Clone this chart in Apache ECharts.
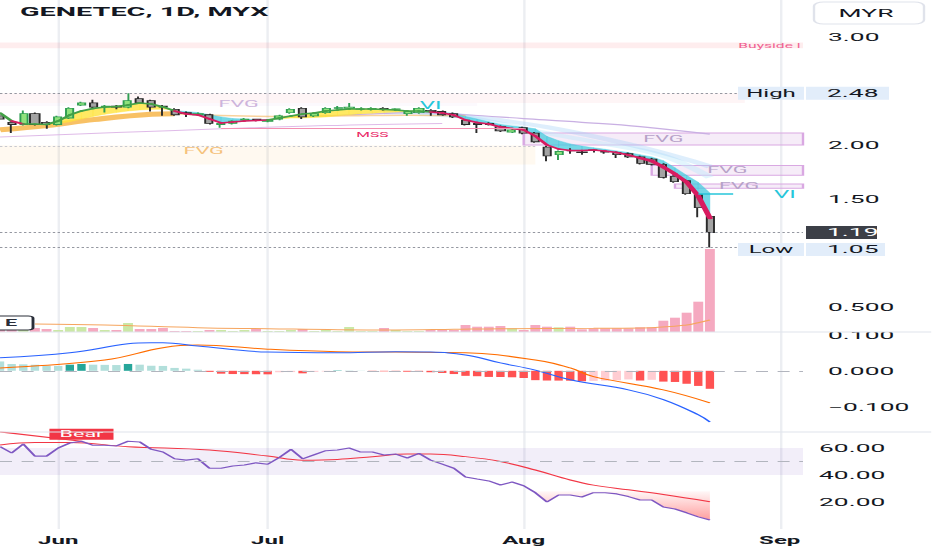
<!DOCTYPE html>
<html><head><meta charset="utf-8">
<script src="https://cdn.jsdelivr.net/npm/echarts@6/dist/echarts.min.js"></script>
<style>
html,body{margin:0;padding:0;background:#fff;overflow:hidden;width:932px;height:550px}
#c{position:absolute;left:0;top:0;height:550px;transform-origin:0 0}
</style></head><body><div id="c"></div>
<script>
// ---------------- DATA ----------------
const categories = [
'2024-05-27','2024-05-28','2024-05-29','2024-05-30','2024-05-31',
'2024-06-04','2024-06-05','2024-06-06','2024-06-07',
'2024-06-10','2024-06-11','2024-06-12','2024-06-13','2024-06-14',
'2024-06-18','2024-06-19','2024-06-20','2024-06-21',
'2024-06-24','2024-06-25','2024-06-26','2024-06-27','2024-06-28',
'2024-07-01','2024-07-02','2024-07-03','2024-07-04','2024-07-05',
'2024-07-09','2024-07-10','2024-07-11','2024-07-12',
'2024-07-15','2024-07-16','2024-07-17','2024-07-18','2024-07-19',
'2024-07-22','2024-07-23','2024-07-24','2024-07-25','2024-07-26',
'2024-07-29','2024-07-30','2024-07-31',
'2024-08-01','2024-08-02',
'2024-08-05','2024-08-06','2024-08-07','2024-08-08','2024-08-09',
'2024-08-12','2024-08-13','2024-08-14','2024-08-15','2024-08-16',
'2024-08-19','2024-08-20','2024-08-21','2024-08-22','2024-08-23',
'2024-08-26','2024-08-27','2024-08-28','2024-08-29','2024-08-30',
'2024-09-02','2024-09-03','2024-09-04'];
const tickDates = ['2024-06-04','2024-07-01','2024-08-01','2024-09-02'];
const tickLabels = ['Jun','Jul','Aug','Sep'];

// [open, close, low, high]
const candles = [
[2.27,2.24,2.22,2.29],[2.21,2.19,2.11,2.22],[2.19,2.29,2.18,2.32],[2.29,2.19,2.18,2.30],[2.21,2.19,2.15,2.22],
[2.19,2.26,2.18,2.27],[2.25,2.34,2.24,2.35],[2.37,2.39,2.36,2.40],[2.39,2.35,2.34,2.42],[2.35,2.36,2.30,2.37],
[2.36,2.35,2.33,2.37],[2.35,2.41,2.34,2.48],[2.43,2.39,2.38,2.45],[2.41,2.35,2.31,2.42],[2.36,2.35,2.27,2.37],
[2.33,2.28,2.27,2.34],[2.30,2.29,2.26,2.31],[2.28,2.29,2.27,2.30],[2.28,2.20,2.19,2.29],[2.19,2.20,2.16,2.21],
[2.20,2.22,2.19,2.23],[2.23,2.24,2.22,2.25],[2.24,2.23,2.22,2.24],[2.22,2.23,2.21,2.24],[2.24,2.27,2.23,2.28],
[2.30,2.33,2.29,2.34],[2.34,2.26,2.24,2.35],[2.27,2.29,2.26,2.30],[2.30,2.34,2.29,2.35],[2.34,2.345,2.33,2.36],
[2.34,2.35,2.33,2.39],[2.33,2.335,2.32,2.35],[2.33,2.34,2.32,2.35],[2.34,2.33,2.32,2.35],[2.33,2.335,2.32,2.34],
[2.29,2.31,2.27,2.32],[2.30,2.34,2.29,2.35],[2.32,2.31,2.27,2.33],[2.31,2.28,2.27,2.32],[2.29,2.26,2.25,2.30],
[2.23,2.19,2.18,2.24],[2.20,2.19,2.11,2.21],[2.20,2.19,2.18,2.21],[2.17,2.13,2.12,2.18],[2.12,2.14,2.11,2.15],
[2.16,2.11,2.10,2.17],[2.11,2.03,2.02,2.12],[1.98,1.90,1.85,1.99],[1.91,1.94,1.86,1.95],[1.95,1.945,1.92,1.97],
[1.935,1.93,1.91,1.95],[1.955,1.95,1.93,1.96],[1.94,1.935,1.92,1.95],[1.93,1.91,1.88,1.94],[1.92,1.89,1.88,1.93],
[1.89,1.83,1.82,1.90],[1.87,1.82,1.81,1.88],[1.82,1.70,1.69,1.83],[1.71,1.66,1.65,1.72],[1.67,1.55,1.54,1.68],
[1.54,1.42,1.33,1.55],[1.34,1.19,1.05,1.35]];

// volume, millions
const volumes = [1.0,1.0,1.5,2.0,1.5,1.0,2.5,2.5,2.0,1.0,1.0,4.5,1.5,1.5,2.0,0.5,0.5,0.5,1.0,1.0,
0.5,1.0,1.5,0.5,0.5,1.0,1.5,0.5,1.0,0.5,2.5,0.5,0.5,2.0,1.0,0.5,0.5,1.0,1.0,1.0,
3.5,2.65,2.65,3.0,1.85,1.0,3.5,2.65,2.35,2.65,1.35,1.85,1.85,1.85,1.85,2.35,2.35,5.65,7.15,9.65,
15.15,41.5];
const volumeMA = [[3,4.0],[9,3.5],[17,2.15],[23,1.65],[29,1.15],[34,1.0],[39,1.35],[43,1.65],[51,1.85],[56,2.15],[59,3.5],[60,4.65],[61,6.0]];

const emaFast = [2.296,2.222,2.194,2.194,2.19,2.222,2.278,2.315,2.338,2.352,2.356,2.37,2.389,2.38,2.352,2.315,2.287,2.278,2.241,2.204,
2.213,2.222,2.227,2.231,2.25,2.269,2.287,2.296,2.315,2.324,2.333,2.333,2.333,2.329,2.324,2.315,2.315,2.306,2.296,2.278,
2.231,2.208,2.194,2.167,2.153,2.139,2.083,2.0,1.963,1.949,1.949,1.954,1.944,1.931,1.907,1.88,1.852,1.796,1.731,1.657,
1.528,1.324];
const emaMid = [2.29,2.225,2.195,2.19,2.188,2.2,2.215,2.24,2.265,2.285,2.30,2.315,2.325,2.33,2.33,2.32,2.31,2.30,2.28,2.26,
2.245,2.24,2.235,2.235,2.24,2.25,2.25,2.255,2.26,2.27,2.28,2.29,2.295,2.30,2.305,2.31,2.31,2.31,2.30,2.29,
2.265,2.24,2.215,2.19,2.175,2.165,2.15,2.08,2.04,2.01,1.99,1.975,1.96,1.945,1.93,1.91,1.89,1.855,1.79,1.72,
1.655,1.556];
const orangeThick = [[0,2.14],[4,2.18],[8,2.235],[13,2.285],[15,2.29]];
const orangeThin = [[15,2.29],[20,2.27],[25,2.265],[30,2.27],[35,2.275],[40,2.27]];
const lavenderLine = [[0,2.074],[10,2.115],[19,2.15],[28,2.18],[38,2.2]];
const slowPurple = [[25,2.26],[30,2.28],[36,2.30],[40,2.28],[45,2.245],[50,2.21],[55,2.17],[61,2.10]];
const slowBlue = [[33,2.30],[36,2.30],[40,2.27],[43,2.23],[47,2.165],[51,2.08],[56,1.955],[60,1.835],[61,1.80]];
const slowBlue2 = [[36,2.29],[40,2.26],[42,2.22],[46,2.13],[51,2.03],[57,1.90],[61,1.70]];

const highPrice = 2.48, lastPrice = 1.19, lowPrice = 1.05;
const hiddenPriceTicks = [2.5, 1.0];   // covered by the High / Low tags in the picture
const buysideZone = [0, 69, 2.895, 2.95];
const highZone = [0, 64, 2.39, 2.48];
const oldFvgZone = [0, 41, 2.36, 2.39];
const orangeZone = [0, 46, 1.82, 1.995];
const orangeLabelZone = [0, 35, 1.95, 1.995];
const fvgZones = [[45,69,2.00,2.11],[56,69,1.72,1.81],[58,69,1.60,1.64]];
const mssLine = [19, 45, 2.157];
const viLine = [60, 63, 1.546];
const viMark = [37, 2.37];
const dottedLine = [0, 46, 1.99];

const macdHist = [0.026,0.019,0.018,0.017,0.014,0.0135,0.017,0.019,0.017,0.0165,0.016,0.019,0.017,0.014,0.0135,0.008,0.006,0.003,-0.003,-0.008,
-0.009,-0.0092,-0.0095,-0.0098,-0.004,-0.0035,-0.007,-0.003,-0.002,0.001,0.0008,0.0005,-0.001,-0.0015,-0.002,-0.0025,-0.003,-0.004,-0.006,-0.009,
-0.014,-0.015,-0.017,-0.0172,-0.018,-0.02,-0.026,-0.027,-0.0272,-0.0275,-0.029,-0.028,-0.0275,-0.026,-0.024,-0.027,-0.025,-0.03,-0.031,-0.036,
-0.042,-0.05];
const macdLine = [[0,0.036],[6,0.05],[11,0.075],[13,0.078],[14,0.078],[17,0.069],[23,0.052],[29,0.05],[34,0.053],[37,0.052],[40,0.044],[43,0.022],[46,0.002],[49,-0.025],[54,-0.053],[57,-0.08],[60,-0.122],[61,-0.142]];
const signalLine = [[0,0.008],[9,0.03],[14,0.064],[17,0.072],[23,0.06],[29,0.053],[34,0.052],[40,0.05],[46,0.03],[49,0.008],[51,-0.016],[57,-0.053],[61,-0.089]];

const rsi = [61,56.3,63,54,54,60,63.7,65,62,62,61.5,65,64.5,59,57,52,51,52,45,45,
46.7,47.4,49,48,53,59,52,55,58,58.5,60,57,57,54.8,55.5,52.6,56,51,48,45,
38.5,37,35.6,32.6,34.8,32,26.9,20,25.2,25.2,23.7,26.9,26.9,26,24,21.5,21.5,16.3,14.8,12,
9,6.7];
const rsiMA = [[0,62.2],[3,64],[6,64],[11,61],[18,58.5],[23,54],[26,51],[29,51.5],[32,53.5],[35,55.5],[37,55.5],[40,53.6],[43,50],[46,43.7],[49,36.3],[51,32.5],[54,29],[57,25.5],[61,20.2]];
const bearDivergence = [[0,72],[7,65]];
const bearIndex = 7;
const rsiBand = [40, 60], rsiMid = 50, rsiOversoldFrom = 46, rsiOversoldLevel = 28;

// ---------------- LAYOUT ----------------
const SX = 2.4;                 // horizontal stretch of the picture
const CW = 932 / SX;            // chart width in its own coordinates
const GW = 803 / SX;            // plot width
const el = document.getElementById('c');
el.style.width = CW + 'px';
el.style.transform = 'scaleX(' + SX + ')';
const chart = echarts.init(el, null, {renderer: 'svg'});

const TXT = '#131722';
const isMult = (v, s) => Math.abs(v / s - Math.round(v / s)) < 1e-6;
const fmtPrice = v => hiddenPriceTicks.some(h => Math.abs(h - v) < 1e-9) ? '' : (v < 1 ? v.toFixed(3) : v.toFixed(2));
const fmtMacd = v => { const z = Math.abs(v) < 1e-9 ? 0 : v; return (z < 0 ? '\u2212' : '') + Math.abs(z).toFixed(3); };
const isTick = (i, v) => tickDates.indexOf(v) >= 0;

function xAx(gi, withLabels, withSplit) {
  return {
    type: 'category', gridIndex: gi, data: categories, boundaryGap: false,
    axisLine: {show: false}, axisTick: {show: false},
    axisLabel: withLabels ? {show: true, interval: isTick, formatter: v => tickLabels[tickDates.indexOf(v)] || '',
      color: TXT, fontSize: 10, fontWeight: 'bold', margin: 6} : {show: false},
    splitLine: {show: withSplit, interval: isTick, lineStyle: {color: '#eceef2', width: 1}}
  };
}
function yLabel(extra) {
  return Object.assign({color: TXT, fontSize: 11, align: 'left', margin: 25 / SX}, extra);
}
const noAx = {axisLine: {show: false}, axisTick: {show: false}, splitLine: {show: false}};

const upVol = '#cbe8a6', downVol = '#f5a9c0';
const volData = volumes.map((v, i) => ({value: v, itemStyle: {color: candles[i][1] >= candles[i][0] ? upVol : downVol}}));
const histData = macdHist.map((v, i) => {
  const p = i > 0 ? macdHist[i - 1] : v;
  let c;
  if (v >= 0) c = (i > 0 && v > p) ? '#26a69a' : '#b2dfdb';
  else c = (i > 0 && v < p) ? '#ff5252' : '#ffcdd2';
  return {value: v, itemStyle: {color: c}};
});

function zoneItem(z, style, name, label) {
  return [{xAxis: z[0], yAxis: z[2], name: name || '', itemStyle: style, label: label || {show: false}},
          {xAxis: z[1], yAxis: z[3]}];
}
const fvgStyle = {color: 'rgba(206,147,216,0.18)', borderColor: '#d9a8e2', borderWidth: 1};
const fvgLabel = {show: true, position: 'inside', color: '#b7a2c8', fontSize: 9};

function ribbonItem(params, api) {
  const i = params.dataIndex;
  if (i >= emaFast.length - 1) return null;
  const a1 = api.coord([i, emaFast[i]]), a2 = api.coord([i + 1, emaFast[i + 1]]);
  const b1 = api.coord([i, emaMid[i]]), b2 = api.coord([i + 1, emaMid[i + 1]]);
  const d1 = emaFast[i] - emaMid[i], d2 = emaFast[i + 1] - emaMid[i + 1];
  const col = d => d >= 0 ? 'rgba(255,228,60,0.8)' : 'rgba(70,203,222,0.75)';
  if (d1 * d2 >= 0) return {type: 'polygon', shape: {points: [a1, a2, b2, b1]}, style: {fill: col(d1 + d2), stroke: col(d1 + d2), lineWidth: 0.3}};
  const t = d1 / (d1 - d2);
  const m = [a1[0] + (a2[0] - a1[0]) * t, a1[1] + (a2[1] - a1[1]) * t];
  return {type: 'group', children: [
    {type: 'polygon', shape: {points: [a1, m, b1]}, style: {fill: col(d1)}},
    {type: 'polygon', shape: {points: [m, a2, b2]}, style: {fill: col(d2)}}]};
}
function fastItem(params, api) {
  const i = params.dataIndex;
  if (i >= emaFast.length - 1) return null;
  const a1 = api.coord([i, emaFast[i]]), a2 = api.coord([i + 1, emaFast[i + 1]]);
  const d = emaFast[i] - emaMid[i] + emaFast[i + 1] - emaMid[i + 1];
  return {type: 'line', shape: {x1: a1[0], y1: a1[1], x2: a2[0], y2: a2[1]},
    style: {stroke: d >= 0 ? '#43a047' : '#d81b60', lineWidth: i >= 55 ? 2.4 : 1.6, lineCap: 'round'}};
}
const lineS = (data, color, width, z) => ({type: 'line', xAxisIndex: 1, yAxisIndex: 1, data, smooth: 0.4, symbol: 'none',
  lineStyle: {color, width}, z: z || 1, silent: true});

const option = {
  animation: false,
  textStyle: {fontFamily: 'Roboto'},
  grid: [
    {left: 0, width: GW, top: 0, height: 332},
    {left: 0, width: GW, top: 37, height: 270},
    {left: 0, width: GW, top: 332, height: 100},
    {left: 0, width: GW, top: 432, height: 97}
  ],
  xAxis: [xAx(0, false, true), xAx(1, false, false), xAx(2, false, true), xAx(3, true, true)],
  yAxis: [
    Object.assign({gridIndex: 0, type: 'value', min: 0, max: 166, show: false}, noAx),
    Object.assign({gridIndex: 1, type: 'value', position: 'right', min: 0.5, max: 3.0, interval: 0.5,
      axisLabel: yLabel({formatter: fmtPrice})}, noAx),
    Object.assign({gridIndex: 2, type: 'value', position: 'right', min: -0.17, max: 0.1078, interval: 0.01,
      axisLabel: yLabel({formatter: v => isMult(v, 0.1) ? fmtMacd(v) : ''})}, noAx),
    Object.assign({gridIndex: 3, type: 'value', position: 'right', min: 0, max: 71.85, interval: 20,
      axisLabel: yLabel({formatter: v => (v > 0 && isMult(v, 20)) ? v.toFixed(2) : '', margin: 16 / SX})}, noAx)
  ],
  series: [
    {type: 'bar', xAxisIndex: 0, yAxisIndex: 0, data: volData, barWidth: '85%', silent: true, z: 1},
    {type: 'line', xAxisIndex: 0, yAxisIndex: 0, data: volumeMA, smooth: 0.4, symbol: 'none', lineStyle: {color: '#f6a55e', width: 1}, z: 2},
    {type: 'line', xAxisIndex: 1, yAxisIndex: 1, data: emaMid, symbol: 'none', lineStyle: {opacity: 0}, silent: true, z: 0,
      markArea: {silent: true, data: [
        zoneItem(buysideZone, {color: 'rgba(242,54,69,0.09)'}, 'Buyside l', {show: true, position: 'insideRight', color: '#f06292', fontSize: 6.5, distance: 1}),
        zoneItem(highZone, {color: 'rgba(242,54,69,0.05)'}),
        zoneItem(oldFvgZone, {color: 'rgba(186,104,200,0.04)'}, 'FVG', {show: true, position: 'inside', color: '#cdb4dc', fontSize: 9}),
        zoneItem(orangeZone, {color: 'rgba(255,167,38,0.07)'}),
        zoneItem(orangeLabelZone, {color: 'rgba(0,0,0,0)'}, 'FVG', {show: true, position: 'insideTop', distance: 1, color: '#f5c27c', fontSize: 9}),
        ...fvgZones.map(z => zoneItem(z, fvgStyle, 'FVG', fvgLabel))
      ]},
      markLine: {silent: true, symbol: ['none', 'none'], data: [
        {yAxis: highPrice, lineStyle: {type: 'dotted', color: '#9598a1', width: 1}, label: {show: false}},
        {yAxis: lastPrice, lineStyle: {type: 'dotted', color: '#9598a1', width: 1}, label: {show: false}},
        {yAxis: lowPrice, lineStyle: {type: 'dotted', color: '#9598a1', width: 1}, label: {show: false}},
        [{coord: [dottedLine[0], dottedLine[2]], lineStyle: {type: 'dotted', color: '#c8c9cf', width: 1}, label: {show: false}}, {coord: [dottedLine[1], dottedLine[2]]}],
        [{coord: [mssLine[0], mssLine[2]], lineStyle: {type: 'solid', color: '#f48fb1', width: 1},
          label: {show: true, formatter: 'MSS', position: 'insideMiddleBottom', color: '#e91e63', fontSize: 6.5, distance: 3}}, {coord: [mssLine[1], mssLine[2]]}],
        [{coord: [viLine[0], viLine[2]], lineStyle: {type: 'solid', color: '#26c6da', width: 1.5},
          label: {show: true, formatter: 'VI', position: 'end', distance: 17, color: '#26c6da', fontSize: 10}}, {coord: [viLine[1], viLine[2]]}]
      ]},
      markPoint: {silent: true, data: [{coord: viMark, symbol: 'circle', symbolSize: 0.1, itemStyle: {color: 'rgba(0,0,0,0)'},
        label: {show: true, formatter: 'VI', position: 'inside', color: '#26c6da', fontSize: 10}}]}
    },
    lineS(lavenderLine, 'rgba(220,180,230,0.9)', 1),
    lineS(slowBlue2, 'rgba(190,232,250,0.45)', 4),
    lineS(slowBlue, 'rgba(160,205,245,0.35)', 4),
    lineS(slowPurple, '#c9b0e3', 1.2),
    lineS(orangeThin, 'rgba(245,180,90,0.6)', 1.5),
    lineS(orangeThick, 'rgba(245,166,35,0.7)', 5),
    {type: 'custom', xAxisIndex: 1, yAxisIndex: 1, data: emaFast.map((v, i) => [i, v, emaMid[i]]), encode: {x: 0, y: [1, 2]},
      renderItem: ribbonItem, clip: true, silent: true, z: 2},
    {type: 'candlestick', xAxisIndex: 1, yAxisIndex: 1, data: candles, barWidth: '76%', silent: true, z: 3,
      itemStyle: {color: '#8fe27c', color0: '#a3a3a3', borderColor: '#2f9e52', borderColor0: '#2a2a2a', borderWidth: 0.8}},
    {type: 'custom', xAxisIndex: 1, yAxisIndex: 1, data: emaFast.map((v, i) => [i, v]), encode: {x: 0, y: 1},
      renderItem: fastItem, clip: true, silent: true, z: 4},
    {type: 'bar', xAxisIndex: 2, yAxisIndex: 2, data: histData, barWidth: '72%', silent: true, z: 1,
      markLine: {silent: true, symbol: ['none', 'none'], label: {show: false},
        data: [{yAxis: 0, lineStyle: {type: [5, 4], color: '#b2b5be', width: 1}}]}},
    {type: 'line', xAxisIndex: 2, yAxisIndex: 2, data: signalLine, smooth: 0.4, symbol: 'none', lineStyle: {color: '#ff6d00', width: 1}, z: 3},
    {type: 'line', xAxisIndex: 2, yAxisIndex: 2, data: macdLine, smooth: 0.4, symbol: 'none', lineStyle: {color: '#2962ff', width: 1}, z: 4},
    {type: 'line', xAxisIndex: 3, yAxisIndex: 3, data: rsi.slice(rsiOversoldFrom).map((v, k) => [rsiOversoldFrom + k, v]),
      symbol: 'none', lineStyle: {width: 0}, silent: true, z: 1,
      areaStyle: {origin: rsiOversoldLevel, color: new echarts.graphic.LinearGradient(0, 0, 0, 1,
        [{offset: 0, color: 'rgba(255,82,82,0.06)'}, {offset: 1, color: 'rgba(255,82,82,0.8)'}])}},
    {type: 'line', xAxisIndex: 3, yAxisIndex: 3, data: rsiMA, smooth: 0.4, symbol: 'none', lineStyle: {color: '#f23645', width: 1}, z: 2},
    {type: 'line', xAxisIndex: 3, yAxisIndex: 3, data: bearDivergence, symbol: 'none', lineStyle: {color: '#f23645', width: 1.2}, z: 2},
    {type: 'line', xAxisIndex: 3, yAxisIndex: 3, data: rsi, symbol: 'none', lineStyle: {color: '#7e57c2', width: 1.1}, z: 3,
      markArea: {silent: true, itemStyle: {color: 'rgba(126,87,194,0.1)'},
        data: [[{xAxis: 0, yAxis: rsiBand[0]}, {xAxis: 69, yAxis: rsiBand[1]}]]},
      markLine: {silent: true, symbol: ['none', 'none'], label: {show: false},
        data: [[{coord: [0, rsiMid], lineStyle: {type: [5, 4], color: '#b2b5be', width: 1}}, {coord: [69, rsiMid]}]]},
      markPoint: {silent: true, data: [{coord: [bearIndex, rsi[bearIndex]], symbol: 'rect', symbolSize: [26.7, 11], symbolOffset: [0, -7],
        itemStyle: {color: '#f23645'}, label: {show: true, formatter: 'Bear', color: '#fff', fontSize: 9, position: 'inside'}}]}}
  ]
};
chart.setOption(option);

// ------------- annotations positioned through the price scale -------------
const yH = chart.convertToPixel({yAxisIndex: 1}, highPrice);
const yC = chart.convertToPixel({yAxisIndex: 1}, lastPrice);
const yL = chart.convertToPixel({yAxisIndex: 1}, lowPrice);
const bx = v => v / SX;
const lblBg = '#e2edfa';
function box(x0, x1, yc, fill, text, color, align) {
  return [
    {type: 'rect', z: 100, shape: {x: bx(x0), y: yc - 6.5, width: bx(x1 - x0), height: 13}, style: {fill}},
    {type: 'text', z: 101, x: align === 'center' ? bx((x0 + x1) / 2) : bx(827), y: yc,
      style: {text, fill: color, fontSize: align === 'center' ? 10 : 11, fontFamily: 'Roboto', align: align || 'left', verticalAlign: 'middle'}}
  ];
}
chart.setOption({graphic: [
  {type: 'rect', z: 90, shape: {x: bx(806), y: 325, width: bx(126), height: 7}, style: {fill: '#fff'}},
  {type: 'line', z: 91, shape: {x1: 0, y1: 332, x2: CW, y2: 332}, style: {stroke: '#e0e3eb', lineWidth: 1}},
  {type: 'line', z: 91, shape: {x1: 0, y1: 432, x2: CW, y2: 432}, style: {stroke: '#e0e3eb', lineWidth: 1}},
  {type: 'text', z: 100, x: bx(20), y: 12, style: {text: 'GENETEC, 1D, MYX', fill: TXT, fontSize: 12, fontWeight: 'bold', fontFamily: 'Roboto', verticalAlign: 'middle'}},
  {type: 'rect', z: 100, shape: {x: bx(814), y: 2, width: bx(110), height: 22, r: 4}, style: {fill: '#fff', stroke: '#e0e3eb', lineWidth: 1}},
  {type: 'text', z: 101, x: bx(866), y: 13, style: {text: 'MYR', fill: TXT, fontSize: 11, fontFamily: 'Roboto', align: 'center', verticalAlign: 'middle'}},
  {type: 'rect', z: 100, shape: {x: -3, y: 316, width: 3 + bx(33), height: 14, r: 2}, style: {fill: '#fff', stroke: '#2a2e39', lineWidth: 1.2}},
  {type: 'text', z: 101, x: bx(11), y: 323, style: {text: 'E', fill: '#2a2e39', fontSize: 9, fontWeight: 'bold', fontFamily: 'Roboto', align: 'center', verticalAlign: 'middle'}},
  ...box(738, 804, yH, lblBg, 'High', TXT, 'center'),
  ...box(806, 889, yH, lblBg, String(highPrice.toFixed(2)), TXT),
  ...box(806, 877, yC, '#3c3f47', String(lastPrice.toFixed(2)), '#fff'),
  ...box(738, 804, yL + 2, lblBg, 'Low', TXT, 'center'),
  ...box(806, 885, yL + 2, lblBg, String(lowPrice.toFixed(2)), TXT)
]});
</script></body></html>
